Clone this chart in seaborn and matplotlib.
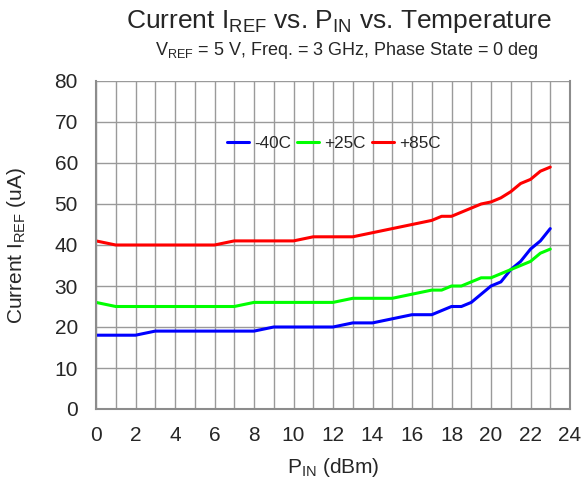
import numpy as np
import pandas as pd
import matplotlib
matplotlib.use("Agg")
import matplotlib.pyplot as plt
import seaborn as sns

# P_IN sweep (dBm)
pin = [0, 1, 2, 3, 4, 5, 6, 7, 8, 9, 10, 11, 12, 13, 14, 15, 16, 17,
       17.5, 18, 18.5, 19, 19.5, 20, 20.5, 21, 21.5, 22, 22.5, 23]

# Current I_REF (uA)
i_m40 = [18, 18, 18, 19, 19, 19, 19, 19, 19, 20, 20, 20, 20, 21, 21, 22, 23, 23,
         24, 25, 25, 26, 28, 30, 31, 34, 36, 39, 41, 44]
i_p25 = [26, 25, 25, 25, 25, 25, 25, 25, 26, 26, 26, 26, 26, 27, 27, 27, 28, 29,
         29, 30, 30, 31, 32, 32, 33, 34, 35, 36, 38, 39]
i_p85 = [41, 40, 40, 40, 40, 40, 40, 41, 41, 41, 41, 42, 42, 42, 43, 44, 45, 46,
         47, 47, 48, 49, 50, 50.5, 51.5, 53, 55, 56, 58, 59]

temps = ["-40C", "+25C", "+85C"]
colors = ["#0000FF", "#00FF00", "#FF0000"]

df = pd.DataFrame({
    "pin": pin * 3,
    "current": i_m40 + i_p25 + i_p85,
    "temp": [t for t in temps for _ in pin],
})

sns.set_style("white")
plt.rcParams["font.family"] = ["Liberation Sans", "DejaVu Sans"]
plt.rcParams["mathtext.default"] = "regular"

fig = plt.figure(figsize=(5.86, 4.8), dpi=100)
ax = fig.add_axes([96 / 586, 1 - 409 / 480, (570 - 96) / 586, (409 - 81) / 480])

sns.lineplot(data=df, x="pin", y="current", hue="temp", hue_order=temps,
             palette=colors, linewidth=2.2, ax=ax)

ax.set_xlim(0, 24)
ax.set_ylim(0, 80)
ax.set_xticks(range(0, 25, 2))
ax.set_yticks(range(0, 81, 10))
ax.xaxis.set_minor_locator(matplotlib.ticker.MultipleLocator(1))
ax.grid(True, which="both", color="#9a9a9a", linewidth=1.0)
ax.set_axisbelow(True)
for side in ["left", "right", "top", "bottom"]:
    ax.spines[side].set_color("#8c8c8c")
    ax.spines[side].set_linewidth(1.5)
ax.spines["top"].set_visible(False)
ax.tick_params(labelsize=15, length=0)
ax.tick_params(axis="x", pad=12)
ax.tick_params(axis="y", pad=13)

ax.set_xlabel("P$_{IN}$ (dBm)", fontsize=15, labelpad=8)
ax.set_ylabel("Current I$_{REF}$ (uA)", fontsize=15, labelpad=19)

ax.legend(loc="center", bbox_to_anchor=(0.502, 1 - (143 - 81) / 328), ncol=3,
          frameon=False, fontsize=12.3, handlelength=1.3, columnspacing=0.35,
          handletextpad=0.3)

fig.text(0.579, 0.955, "Current I$_{REF}$ vs. P$_{IN}$ vs. Temperature",
         ha="center", va="center", fontsize=19)
fig.text(0.592, 0.895, "V$_{REF}$ = 5 V, Freq. = 3 GHz, Phase State = 0 deg",
         ha="center", va="center", fontsize=13)

fig.savefig("out.png", dpi=100)
